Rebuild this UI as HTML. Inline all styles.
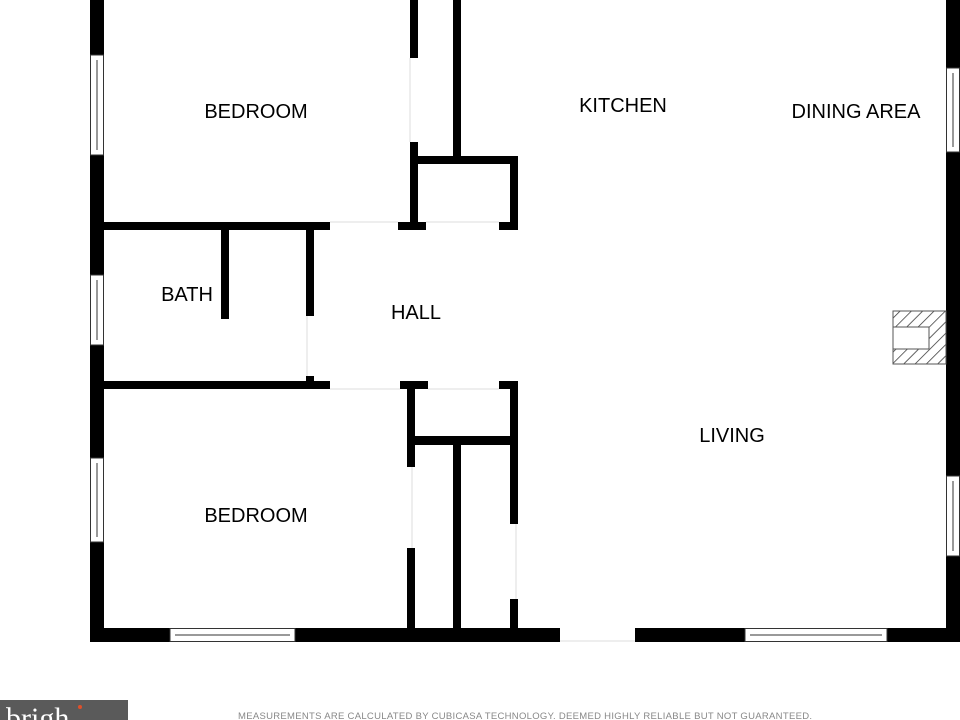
<!DOCTYPE html>
<html><head><meta charset="utf-8"><style>
html,body{margin:0;padding:0;background:#fff;}
body{width:960px;height:720px;overflow:hidden;position:relative;}
svg{position:absolute;left:0;top:0;}
</style></head><body>
<svg width="960" height="720" viewBox="0 0 960 720" xmlns="http://www.w3.org/2000/svg">
<defs>
<pattern id="h" width="8" height="8" patternUnits="userSpaceOnUse" patternTransform="rotate(45)">
<line x1="0" y1="0" x2="0" y2="8" stroke="#333" stroke-width="1.5"/>
</pattern>
</defs>
<g fill="#000">
<rect x="90" y="0" width="14" height="642"/>
<rect x="946" y="0" width="14" height="642"/>
<rect x="90" y="628" width="470" height="14"/>
<rect x="635" y="628" width="325" height="14"/>
<rect x="410" y="0" width="8" height="58"/>
<rect x="410" y="142" width="8" height="88"/>
<rect x="453" y="0" width="8" height="162"/>
<rect x="410" y="156" width="108" height="8"/>
<rect x="510" y="156" width="8" height="74"/>
<rect x="398" y="222" width="28" height="8"/>
<rect x="499" y="222" width="19" height="8"/>
<rect x="104" y="222" width="226" height="8"/>
<rect x="221" y="230" width="8" height="89"/>
<rect x="306" y="230" width="8" height="86"/>
<rect x="306" y="376" width="8" height="6"/>
<rect x="104" y="381" width="226" height="8"/>
<rect x="400" y="381" width="28" height="8"/>
<rect x="499" y="381" width="19" height="8"/>
<rect x="407" y="389" width="8" height="78"/>
<rect x="407" y="548" width="8" height="80"/>
<rect x="407" y="436" width="111" height="9"/>
<rect x="453" y="445" width="8" height="183"/>
<rect x="510" y="381" width="8" height="143"/>
<rect x="510" y="599" width="8" height="29"/>
</g>
<g stroke="#ddd" stroke-width="1" fill="none">
<line x1="330" y1="222" x2="398" y2="222"/><line x1="426" y1="222" x2="499" y2="222"/>
<line x1="330" y1="389" x2="400" y2="389"/><line x1="428" y1="389" x2="499" y2="389"/>
<line x1="307" y1="316" x2="307" y2="376"/>
<line x1="410" y1="58" x2="410" y2="142"/>
<line x1="412" y1="467" x2="412" y2="548"/>
<line x1="516" y1="524" x2="516" y2="599"/>
<line x1="560" y1="641" x2="635" y2="641"/>
</g>
<g fill="#fff" stroke="#333" stroke-width="1">
<rect x="90.5" y="55" width="13" height="100"/><line x1="97" y1="60" x2="97" y2="150"/>
<rect x="90.5" y="275" width="13" height="70"/><line x1="97" y1="280" x2="97" y2="340"/>
<rect x="90.5" y="458" width="13" height="84"/><line x1="97" y1="463" x2="97" y2="537"/>
<rect x="946.5" y="68" width="13" height="84"/><line x1="953" y1="73" x2="953" y2="147"/>
<rect x="946.5" y="476" width="13" height="80"/><line x1="953" y1="481" x2="953" y2="551"/>
<rect x="170" y="628.5" width="125" height="13"/><line x1="175" y1="635" x2="290" y2="635"/>
<rect x="745" y="628.5" width="142" height="13"/><line x1="750" y1="635" x2="882" y2="635"/>
</g>
<rect x="893" y="311" width="53" height="53" fill="url(#h)" stroke="#555" stroke-width="1"/>
<rect x="893" y="327" width="36" height="22" fill="#fff" stroke="#555" stroke-width="1"/>
<g font-family="Liberation Sans, sans-serif" font-size="20" fill="#000" text-anchor="middle">
<text x="256" y="118">BEDROOM</text>
<text x="623" y="112">KITCHEN</text>
<text x="856" y="118">DINING AREA</text>
<text x="187" y="301">BATH</text>
<text x="416" y="319">HALL</text>
<text x="732" y="442">LIVING</text>
<text x="256" y="522">BEDROOM</text>
</g>
<rect x="0" y="700" width="128" height="20" fill="#5a5a5a"/>
<text x="6" y="728" font-family="Liberation Serif, serif" font-size="30" fill="#fff">brigh</text>
<circle cx="80" cy="707" r="2" fill="#e0502a"/>
<text x="525" y="719" font-family="Liberation Sans, sans-serif" font-size="9.5" fill="#888" text-anchor="middle" textLength="574">MEASUREMENTS ARE CALCULATED BY CUBICASA TECHNOLOGY. DEEMED HIGHLY RELIABLE BUT NOT GUARANTEED.</text>
</svg>
</body></html>
